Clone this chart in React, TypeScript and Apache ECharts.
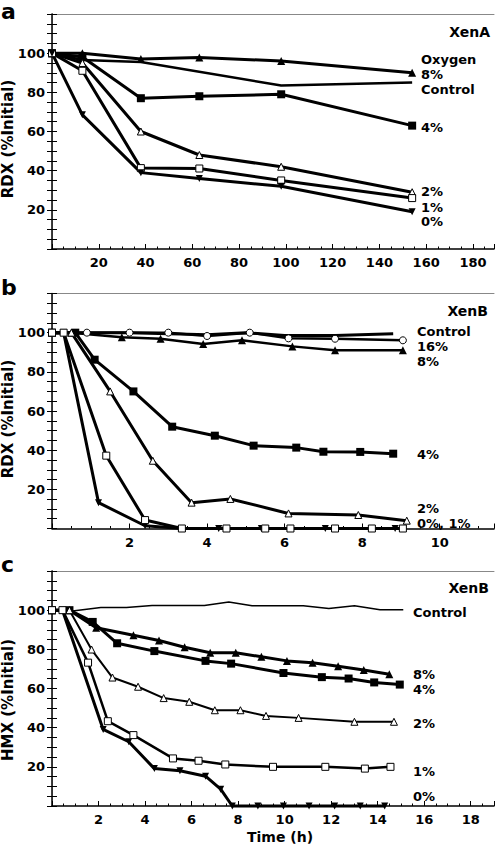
import React, { useEffect, useRef } from "react";
import * as echarts from "echarts";

const FONT = '"DejaVu Sans", Arial, sans-serif';

// ---------- Panel a: XenA, RDX ----------
const A_TIME = [0, 13, 38, 63, 98, 154];
const A_CONTROL_TIME = [0, 13, 38, 98, 154];
const A_CONTROL = [100, 96.5, 95.5, 83.5, 85];
const A_8 = [100, 100, 97, 97.8, 96, 90];
const A_4 = [100, 98, 77, 78, 79, 63];
const A_2 = [100, 95, 60, 48, 42, 29];
const A_1 = [100, 91, 41.3, 41.1, 35, 26];
const A_0 = [100, 68.5, 39, 36, 32, 19];

// ---------- Panel b: XenB, RDX ----------
const B_CONTROL_TIME = [0, 1, 2, 3, 4, 5, 6, 7.3, 8.8];
const B_CONTROL = [100, 100, 100, 99.5, 99, 100, 98.5, 98.5, 99.5];
const B_16_TIME = [0, 0.9, 2.0, 3.0, 4.0, 5.1, 6.1, 7.3, 9.05];
const B_16 = [100, 100, 100, 100, 98.3, 100, 97.1, 96.9, 96.1];
const B_8_TIME = [0, 0.5, 1.8, 2.8, 3.9, 4.9, 6.2, 7.3, 9.05];
const B_8 = [100, 100, 97.6, 96.9, 94.2, 96.1, 93, 91, 91];
const B_4_TIME = [0, 0.6, 1.1, 2.1, 3.1, 4.2, 5.2, 6.3, 7.0, 7.95, 8.8];
const B_4 = [100, 100, 86.2, 70, 52, 47.4, 42.3, 41.3, 39.2, 39.1, 38.2];
const B_2_TIME = [0, 0.5, 1.5, 2.6, 3.6, 4.6, 6.1, 7.9, 9.15];
const B_2 = [100, 100, 70, 34.6, 13.2, 15.1, 7.7, 6.9, 4];
const B_1_TIME = [0, 0.3, 1.4, 2.4, 3.35, 4.5, 5.5, 6.15, 7.3, 8.25, 9.05];
const B_1 = [100, 100, 37.2, 4.3, 0, 0, 0, 0, 0, 0, 0];
const B_0_TIME = [0, 0.3, 1.2, 2.4, 3.35, 4.3, 5.4, 7.05, 8.85];
const B_0 = [100, 100, 13.2, 1.4, 0, 0, 0, 0, 0];

// ---------- Panel c: XenB, HMX ----------
const C_CONTROL_TIME = [0, 0.8, 2.1, 3.2, 4.3, 5.5, 6.55, 7.6, 8.6, 9.8, 10.8, 11.9, 13.0, 14.1, 15.1];
const C_CONTROL = [100, 99.5, 101.4, 101.4, 102.4, 102.4, 102.4, 104.2, 102.2, 102.2, 102.2, 100.9, 102.2, 100.2, 100.2];
const C_8_TIME = [0, 0.75, 1.9, 3.5, 4.6, 5.7, 6.8, 7.9, 9.0, 10.1, 11.2, 12.3, 13.4, 14.5];
const C_8 = [100, 100, 91, 87.2, 84.5, 81.1, 78.3, 78.3, 76.2, 74.1, 73.2, 71.4, 69.4, 67.3];
const C_4_TIME = [0, 0.75, 1.75, 2.8, 4.4, 6.6, 7.7, 9.95, 11.6, 12.75, 13.85, 14.95];
const C_4 = [100, 100, 94, 83.1, 79.1, 74.1, 72.7, 67.9, 65.8, 65.1, 63.1, 62];
const C_2_TIME = [0, 0.75, 1.7, 2.6, 3.7, 4.8, 5.9, 7.0, 8.1, 9.2, 10.6, 13.0, 14.7];
const C_2 = [100, 100, 79.9, 65.6, 60.9, 55.1, 53.2, 48.9, 48.9, 46, 45, 43, 43];
const C_1_TIME = [0, 0.45, 1.55, 2.4, 3.5, 5.2, 6.3, 7.45, 9.5, 11.75, 13.45, 14.55];
const C_1 = [100, 100, 73.2, 43.3, 36.2, 24.3, 23.1, 21.2, 20, 20, 19.1, 20];
const C_0_TIME = [0, 0.45, 2.2, 3.3, 4.4, 5.5, 6.6, 7.25, 7.75, 8.85, 9.95, 11.05, 12.15, 13.25, 14.3];
const C_0 = [100, 100, 39.1, 32.8, 19.1, 18, 15.2, 8.6, 0, 0, 0, 0, 0, 0, 0];

// Axis settings
const X_MAX = [189, 11.4, 19];
const X_INTERVAL = [20, 2, 2];
const X_LABEL_MAX = [180, 10, 18];
const Y_LABELS = [20, 40, 60, 80, 100];
const PANEL_TOP = [14, 293.5, 571];
const PLOT_H = 235;
const PLOT_LEFT = 52;
const PLOT_W = 442;

type Kind = "none" | "tri" | "triOpen" | "sq" | "sqOpen" | "down" | "circOpen";

function zip(t: number[], v: number[]) {
  return t.map((x, i) => [x, v[i]]);
}

function series(p: number, name: string, t: number[], v: number[], kind: Kind, lw: number) {
  const open = kind === "triOpen" || kind === "sqOpen" || kind === "circOpen";
  const symbol =
    kind === "none" ? "none" :
    kind === "tri" || kind === "triOpen" || kind === "down" ? "triangle" :
    kind === "sq" || kind === "sqOpen" ? "rect" : "circle";
  const size =
    kind === "sq" ? 8 : kind === "sqOpen" ? 7 : kind === "tri" ? 8 : kind === "down" ? 7 : 7;
  return {
    type: "line",
    name,
    xAxisIndex: p * 3,
    yAxisIndex: p * 2,
    data: zip(t, v),
    symbol,
    symbolSize: size,
    symbolRotate: kind === "down" ? 180 : 0,
    showSymbol: kind !== "none",
    clip: false,
    lineStyle: { color: "#000", width: lw },
    itemStyle: open
      ? { color: "#fff", borderColor: "#000", borderWidth: 1 }
      : { color: "#000", borderColor: "#000", borderWidth: 0 },
    emphasis: { disabled: true },
    z: 3,
  };
}

function buildAxes() {
  const grid: any[] = [];
  const xAxis: any[] = [];
  const yAxis: any[] = [];
  for (let p = 0; p < 3; p++) {
    grid.push({ left: PLOT_LEFT, top: PANEL_TOP[p], width: PLOT_W, height: PLOT_H, containLabel: false });
    const I = X_INTERVAL[p];
    const lm = X_LABEL_MAX[p];
    xAxis.push({
      type: "value", gridIndex: p, position: "bottom", min: 0, max: X_MAX[p], interval: I,
      axisLine: { show: true, lineStyle: { color: "#000", width: 1.5 } },
      axisTick: { show: true, inside: true, length: 5, lineStyle: { color: "#000", width: 1 } },
      axisLabel: {
        show: true, margin: 7, color: "#000", fontFamily: FONT, fontWeight: "bold", fontSize: 13,
        showMaxLabel: true, showMinLabel: true,
        formatter: (val: number) => {
          const k = val / I;
          return val > 0 && val <= lm + 1e-6 && Math.abs(k - Math.round(k)) < 1e-6 ? String(Math.round(val)) : "";
        },
      },
      splitLine: { show: false },
    });
    xAxis.push({
      type: "value", gridIndex: p, position: "bottom", min: 0, max: X_MAX[p], interval: I / 4,
      axisLine: { show: false },
      axisTick: { show: true, inside: true, length: 2.5, lineStyle: { color: "#000", width: 1 } },
      axisLabel: { show: false },
      splitLine: { show: false },
    });
    xAxis.push({
      type: "value", gridIndex: p, position: "top", min: 0, max: X_MAX[p],
      axisLine: { show: true, lineStyle: { color: "#888", width: 1 } },
      axisTick: { show: false }, axisLabel: { show: false }, splitLine: { show: false },
    });
    yAxis.push({
      type: "value", gridIndex: p, position: "left", min: 0, max: 120, interval: 5,
      axisLine: { show: true, lineStyle: { color: "#000", width: 1.5 } },
      axisTick: { show: true, inside: true, length: 5, lineStyle: { color: "#000", width: 1 } },
      axisLabel: {
        show: true, margin: 7, color: "#000", fontFamily: FONT, fontWeight: "bold", fontSize: 13,
        formatter: (val: number) => (Y_LABELS.indexOf(val) >= 0 ? String(val) : ""),
      },
      splitLine: { show: false },
    });
    yAxis.push({
      type: "value", gridIndex: p, position: "right", min: 0, max: 120, interval: 5,
      axisLine: { show: true, lineStyle: { color: "#333", width: 1 } },
      axisTick: { show: true, inside: true, length: 5, lineStyle: { color: "#000", width: 1 } },
      axisLabel: { show: false },
      splitLine: { show: false },
    });
  }
  return { grid, xAxis, yAxis };
}

function txt(text: string, x: number, y: number, size = 13, align = "left", rotation = 0) {
  return {
    type: "text",
    x, y, rotation,
    z: 10,
    style: {
      text,
      fill: "#000",
      font: `bold ${size}px ${FONT}`,
      align, verticalAlign: "middle",
      textAlign: align, textVerticalAlign: "middle",
    },
  };
}

export default function App() {
  const ref = useRef<HTMLDivElement>(null);
  useEffect(() => {
    if (!ref.current) return;
    const chart = echarts.init(ref.current, undefined, { renderer: "svg" });
    const { grid, xAxis, yAxis } = buildAxes();
    const seriesList = [
      series(0, "Control", A_CONTROL_TIME, A_CONTROL, "none", 2.5),
      series(0, "8%", A_TIME, A_8, "tri", 3),
      series(0, "4%", A_TIME, A_4, "sq", 3),
      series(0, "2%", A_TIME, A_2, "triOpen", 3),
      series(0, "1%", A_TIME, A_1, "sqOpen", 3),
      series(0, "0%", A_TIME, A_0, "down", 3),

      series(1, "Control", B_CONTROL_TIME, B_CONTROL, "none", 3),
      series(1, "16%", B_16_TIME, B_16, "circOpen", 2.5),
      series(1, "8%", B_8_TIME, B_8, "tri", 2.5),
      series(1, "4%", B_4_TIME, B_4, "sq", 3),
      series(1, "2%", B_2_TIME, B_2, "triOpen", 3),
      series(1, "0%", B_0_TIME, B_0, "down", 3),
      series(1, "1%", B_1_TIME, B_1, "sqOpen", 3),

      series(2, "Control", C_CONTROL_TIME, C_CONTROL, "none", 1.5),
      series(2, "8%", C_8_TIME, C_8, "tri", 3),
      series(2, "4%", C_4_TIME, C_4, "sq", 3),
      series(2, "2%", C_2_TIME, C_2, "triOpen", 2),
      series(2, "0%", C_0_TIME, C_0, "down", 3),
      series(2, "1%", C_1_TIME, C_1, "sqOpen", 2.5),
    ];
    const graphic = [
      txt("a", 1, 11, 22),
      txt("b", 1, 287, 22),
      txt("c", 1, 564, 22),
      txt("RDX (%Initial)", 8, 139, 15, "center", Math.PI / 2),
      txt("RDX (%Initial)", 8, 419, 15, "center", Math.PI / 2),
      txt("HMX (%Initial)", 8, 700, 15, "center", Math.PI / 2),
      txt("Time (h)", 280, 837, 14, "center"),

      txt("XenA", 490, 32, 14, "right"),
      txt("Oxygen", 421, 59),
      txt("8%", 421, 74),
      txt("Control", 421, 89),
      txt("4%", 421, 127),
      txt("2%", 421, 191),
      txt("1%", 421, 207),
      txt("0%", 421, 221),

      txt("XenB", 488, 311, 14, "right"),
      txt("Control", 417, 331),
      txt("16%", 417, 346),
      txt("8%", 417, 361),
      txt("4%", 417, 454),
      txt("2%", 417, 508),
      txt("0%, 1%", 417, 523),

      txt("XenB", 489, 588, 14, "right"),
      txt("Control", 413, 612),
      txt("8%", 413, 674),
      txt("4%", 413, 689),
      txt("2%", 413, 723),
      txt("1%", 413, 771),
      txt("0%", 413, 796),
    ];
    chart.setOption({
      animation: false,
      backgroundColor: "#fff",
      textStyle: { fontFamily: FONT },
      grid, xAxis, yAxis,
      series: seriesList,
      graphic,
    });
    return () => chart.dispose();
  }, []);
  return (
    <div
      ref={ref}
      style={{ position: "fixed", left: 0, top: 0, width: 498, height: 846, background: "#fff" }}
    />
  );
}
